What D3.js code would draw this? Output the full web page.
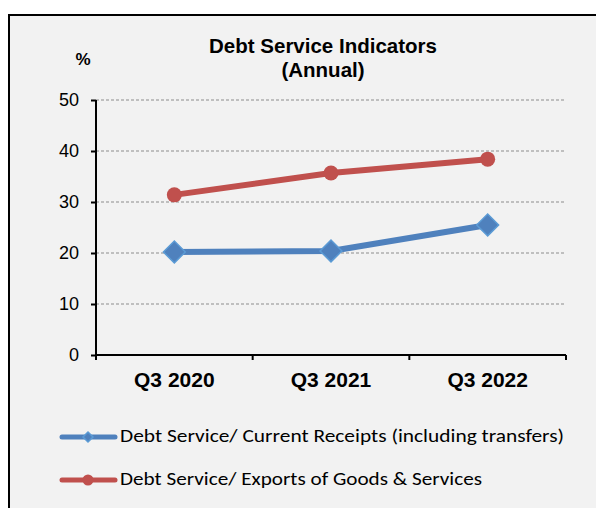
<!DOCTYPE html>
<html>
<head>
<meta charset="utf-8">
<script src="https://d3js.org/d3.v7.min.js"></script>
<style>
  html, body { margin: 0; padding: 0; background: #ffffff; }
  svg { display: block; }
</style>
</head>
<body>
<div id="chart"></div>
<script>
// Debt service indicators, annual, in percent
const periods = ["Q3 2020", "Q3 2021", "Q3 2022"];
const receiptsRatio = [20.2, 20.4, 25.5];
const exportsRatio = [31.4, 35.7, 38.4];
const yTicks = [0, 10, 20, 30, 40, 50];
const seriesNames = [
  "Debt Service/ Current Receipts (including transfers)",
  "Debt Service/ Exports of Goods & Services"
];
const titleLines = ["Debt Service Indicators", "(Annual)"];

const W = 596, H = 508;
const plot = { left: 96, right: 566, top: 100, bottom: 355 };
const blue = "#4f81bd", blueEdge = "#5b9bd5", red = "#c0504d";
const sans = "Arial, 'Liberation Sans', sans-serif";

const svg = d3.select("#chart").append("svg")
  .attr("width", W).attr("height", H);

// outer chart frame (continues past the right and bottom edges)
svg.append("rect")
  .attr("x", 9).attr("y", 15)
  .attr("width", 620).attr("height", 530)
  .attr("fill", "#f2f2f2")
  .attr("stroke", "#000").attr("stroke-width", 2);

const x = d3.scaleBand().domain(periods).range([plot.left, plot.right]);
const y = d3.scaleLinear().domain([0, 50]).range([plot.bottom, plot.top]);

// dashed horizontal gridlines
svg.append("g").selectAll("line")
  .data(yTicks.filter(d => d > 0))
  .join("line")
  .attr("x1", plot.left).attr("x2", plot.right)
  .attr("y1", d => y(d)).attr("y2", d => y(d))
  .attr("stroke", "#8c8c8c").attr("stroke-width", 1)
  .attr("stroke-dasharray", "3,2");

// y axis
const yAxis = svg.append("g")
  .attr("transform", `translate(${plot.left},0)`)
  .call(d3.axisLeft(y).tickValues(yTicks).tickSize(5).tickPadding(12).tickFormat(d3.format("d")));
yAxis.select(".domain").attr("stroke", "#000").attr("stroke-width", 2)
  .attr("d", `M0,${plot.top}V${plot.bottom}`);
yAxis.selectAll(".tick line").attr("stroke", "#000").attr("stroke-width", 2);
yAxis.selectAll(".tick text")
  .attr("font-family", sans)
  .attr("font-size", 18).attr("fill", "#000");

// x axis with ticks at category boundaries
const xAxis = svg.append("g")
  .attr("transform", `translate(0,${plot.bottom})`);
xAxis.append("line")
  .attr("x1", plot.left).attr("x2", plot.right)
  .attr("y1", 0).attr("y2", 0)
  .attr("stroke", "#000").attr("stroke-width", 2);
const bounds = periods.map(p => x(p)).concat([plot.right]);
xAxis.selectAll("line.tk").data(bounds).join("line")
  .attr("class", "tk")
  .attr("x1", d => d).attr("x2", d => d)
  .attr("y1", 0).attr("y2", 5)
  .attr("stroke", "#000").attr("stroke-width", 2);
xAxis.selectAll("text").data(periods).join("text")
  .attr("x", d => x(d) + x.bandwidth() / 2)
  .attr("y", 32)
  .attr("text-anchor", "middle")
  .attr("font-family", sans)
  .attr("font-weight", "bold").attr("font-size", 21)
  .attr("fill", "#000")
  .text(d => d);

// title and unit
svg.append("text")
  .attr("text-anchor", "middle")
  .attr("font-family", sans)
  .attr("font-weight", "bold").attr("font-size", 20.5)
  .attr("fill", "#000")
  .selectAll("tspan").data(titleLines).join("tspan")
  .attr("x", 323).attr("y", (d, i) => 53 + i * 24)
  .text(d => d);
svg.append("text")
  .attr("x", 83).attr("y", 65)
  .attr("text-anchor", "middle")
  .attr("font-family", sans)
  .attr("font-weight", "bold").attr("font-size", 17)
  .attr("fill", "#000")
  .text("%");

const cx = d => x(d) + x.bandwidth() / 2;
const line = d3.line().x(d => cx(d.p)).y(d => y(d.v));

const blueData = periods.map((p, i) => ({ p, v: receiptsRatio[i] }));
const redData = periods.map((p, i) => ({ p, v: exportsRatio[i] }));

// exports series
svg.append("path").datum(redData)
  .attr("d", line).attr("fill", "none")
  .attr("stroke", red).attr("stroke-width", 6).attr("stroke-linejoin", "round");
svg.append("g").selectAll("circle").data(redData).join("circle")
  .attr("cx", d => cx(d.p)).attr("cy", d => y(d.v)).attr("r", 7.5)
  .attr("fill", red);

// receipts series
svg.append("path").datum(blueData)
  .attr("d", line).attr("fill", "none")
  .attr("stroke", blue).attr("stroke-width", 6).attr("stroke-linejoin", "round");
svg.append("g").selectAll("path.mk").data(blueData).join("path")
  .attr("class", "mk")
  .attr("transform", d => `translate(${cx(d.p)},${y(d.v)}) rotate(45)`)
  .attr("d", d3.symbol().type(d3.symbolSquare).size(240))
  .attr("fill", blue).attr("stroke", blueEdge).attr("stroke-width", 1.5);

// legend
const legend = svg.append("g");
const legendRows = [
  { name: seriesNames[0], color: blue, kind: "diamond", y: 437, len: 444 },
  { name: seriesNames[1], color: red, kind: "circle", y: 480, len: 362 }
];
legendRows.forEach(r => {
  legend.append("line")
    .attr("x1", 62).attr("x2", 115).attr("y1", r.y).attr("y2", r.y)
    .attr("stroke", r.color).attr("stroke-width", 5).attr("stroke-linecap", "round");
  if (r.kind === "diamond") {
    legend.append("path")
      .attr("transform", `translate(88,${r.y}) rotate(45)`)
      .attr("d", d3.symbol().type(d3.symbolSquare).size(50))
      .attr("fill", blue).attr("stroke", blueEdge).attr("stroke-width", 1.5);
  } else {
    legend.append("circle")
      .attr("cx", 88).attr("cy", r.y).attr("r", 5.5).attr("fill", red);
  }
  legend.append("text")
    .attr("x", 120).attr("y", r.y + 5)
    .attr("font-family", "Calibri, Carlito, 'Open Sans', sans-serif")
    .attr("font-size", 18.5).attr("fill", "#000")
    .attr("textLength", r.len).attr("lengthAdjust", "spacingAndGlyphs")
    .text(r.name);
});
</script>
</body>
</html>
